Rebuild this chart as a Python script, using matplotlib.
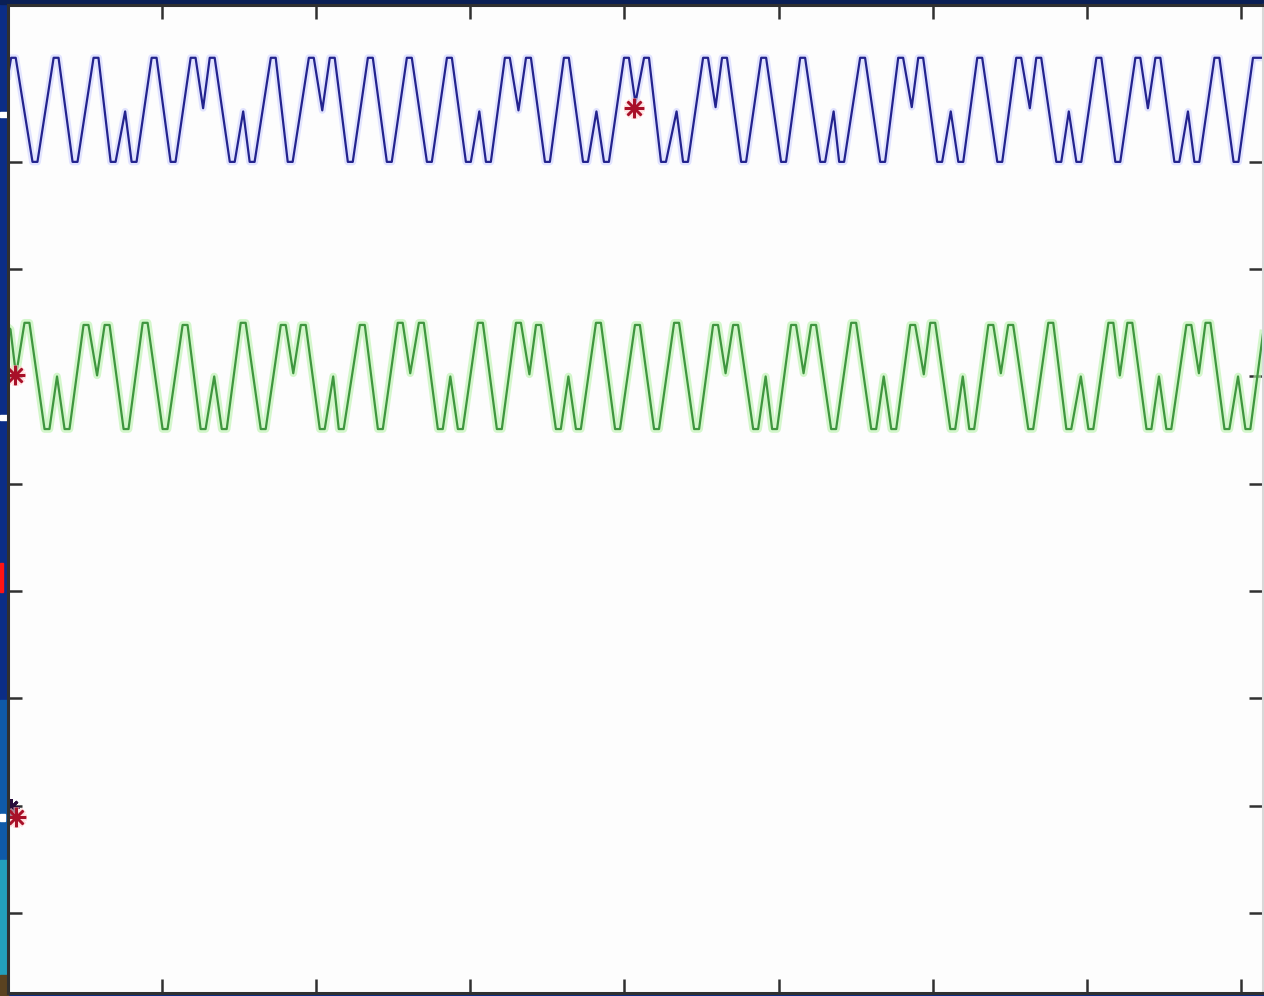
#!/usr/bin/env python3
"""Two beating test signals with marked samples, MATLAB-style boxed frame."""

from __future__ import annotations

import matplotlib

matplotlib.use("Agg")
import matplotlib.pyplot as plt
from matplotlib.patches import Rectangle

OUT_PATH = "out.png"
FIG_W_PX = 1264
FIG_H_PX = 996
DPI = 100

# upper trace (blue): vertices (flat tops kept as two points)
BLUE_T = [
    0.000, 0.020, 0.050, 0.159, 0.191, 0.296, 0.328, 0.419, 0.451, 0.555, 0.587, 0.666, 0.698, 0.760, 0.802, 0.834, 0.932, 0.964,
    1.055, 1.087, 1.185, 1.217, 1.266, 1.309, 1.341, 1.439, 1.471, 1.526, 1.568, 1.600, 1.705, 1.737, 1.815, 1.847, 1.952, 1.984,
    2.039, 2.088, 2.120, 2.205, 2.237, 2.335, 2.367, 2.458, 2.490, 2.588, 2.620, 2.718, 2.750, 2.848, 2.880, 2.971, 3.003, 3.058,
    3.101, 3.133, 3.224, 3.256, 3.312, 3.361, 3.393, 3.484, 3.516, 3.607, 3.639, 3.731, 3.763, 3.818, 3.867, 3.899, 3.997, 4.029,
    4.071, 4.127, 4.159, 4.237, 4.269, 4.338, 4.380, 4.412, 4.510, 4.542, 4.591, 4.633, 4.665, 4.757, 4.789, 4.887, 4.919,
    5.016, 5.048, 5.140, 5.172, 5.270, 5.302, 5.357, 5.393, 5.425, 5.529, 5.561, 5.659, 5.691, 5.776, 5.808, 5.864, 5.906, 5.938,
    6.029, 6.061, 6.117, 6.166, 6.198, 6.289, 6.321, 6.419, 6.451, 6.542, 6.574, 6.630, 6.672, 6.704, 6.802, 6.834, 6.883,
    6.932, 6.964, 7.062, 7.094, 7.185, 7.217, 7.315, 7.347, 7.396, 7.445, 7.477, 7.568, 7.600, 7.656, 7.698, 7.730, 7.828, 7.860,
    7.952, 7.984, 8.078, 8.143,
]
BLUE_V = [
    7.80, 7.97, 7.97, 7.00, 7.00, 7.97, 7.97, 7.00, 7.00, 7.97, 7.97, 7.00, 7.00, 7.47, 7.00, 7.00, 7.97, 7.97,
    7.00, 7.00, 7.97, 7.97, 7.50, 7.97, 7.97, 7.00, 7.00, 7.47, 7.00, 7.00, 7.97, 7.97, 7.00, 7.00, 7.97, 7.97,
    7.48, 7.97, 7.97, 7.00, 7.00, 7.97, 7.97, 7.00, 7.00, 7.97, 7.97, 7.00, 7.00, 7.97, 7.97, 7.00, 7.00, 7.47,
    7.00, 7.00, 7.97, 7.97, 7.48, 7.97, 7.97, 7.00, 7.00, 7.97, 7.97, 7.00, 7.00, 7.47, 7.00, 7.00, 7.97, 7.97,
    7.55, 7.97, 7.97, 7.00, 7.00, 7.47, 7.00, 7.00, 7.97, 7.97, 7.51, 7.97, 7.97, 7.00, 7.00, 7.97, 7.97,
    7.00, 7.00, 7.97, 7.97, 7.00, 7.00, 7.47, 7.00, 7.00, 7.97, 7.97, 7.00, 7.00, 7.97, 7.97, 7.51, 7.97, 7.97,
    7.00, 7.00, 7.47, 7.00, 7.00, 7.97, 7.97, 7.00, 7.00, 7.97, 7.97, 7.50, 7.97, 7.97, 7.00, 7.00, 7.47,
    7.00, 7.00, 7.97, 7.97, 7.00, 7.00, 7.97, 7.97, 7.50, 7.97, 7.97, 7.00, 7.00, 7.47, 7.00, 7.00, 7.97, 7.97,
    7.00, 7.00, 7.97, 7.97,
]

# middle trace (green)
GREEN_T = [
    0.000, 0.016, 0.052, 0.107, 0.139, 0.237, 0.269, 0.318, 0.367, 0.399, 0.490, 0.522, 0.578, 0.627, 0.659,
    0.750, 0.782, 0.874, 0.906, 1.003, 1.035, 1.133, 1.165, 1.250, 1.282, 1.338, 1.387, 1.419, 1.510, 1.542, 1.640, 1.672, 1.770, 1.802,
    1.851, 1.900, 1.932, 2.023, 2.055, 2.110, 2.146, 2.178, 2.283, 2.315, 2.400, 2.432, 2.529, 2.561, 2.610, 2.666, 2.698,
    2.789, 2.821, 2.870, 2.919, 2.951, 3.049, 3.081, 3.172, 3.204, 3.296, 3.328, 3.383, 3.426, 3.458, 3.555, 3.587, 3.636,
    3.685, 3.717, 3.815, 3.847, 3.939, 3.971, 4.068, 4.100, 4.192, 4.224, 4.322, 4.354, 4.452, 4.484, 4.575, 4.607, 4.656, 4.705, 4.737,
    4.835, 4.867, 4.916, 4.958, 4.990, 5.081, 5.113, 5.162, 5.211, 5.243, 5.341, 5.373, 5.471, 5.503, 5.601, 5.633, 5.682,
    5.731, 5.763, 5.854, 5.886, 5.942, 5.984, 6.016, 6.114, 6.146, 6.195, 6.237, 6.269, 6.361, 6.393, 6.442, 6.490, 6.522,
    6.620, 6.652, 6.750, 6.782, 6.867, 6.899, 6.961, 7.010, 7.042, 7.140, 7.172, 7.214, 7.263, 7.295, 7.387, 7.419, 7.468,
    7.516, 7.548, 7.646, 7.678, 7.727, 7.770, 7.802, 7.893, 7.925, 7.981, 8.029, 8.061, 8.143,
]
GREEN_V = [
    5.46, 5.44, 5.01, 5.50, 5.50, 4.51, 4.51, 5.00, 4.51, 4.51, 5.48, 5.48, 5.01, 5.48, 5.48,
    4.51, 4.51, 5.50, 5.50, 4.51, 4.51, 5.48, 5.48, 4.51, 4.51, 5.00, 4.51, 4.51, 5.50, 5.50, 4.51, 4.51, 5.48, 5.48,
    5.03, 5.48, 5.48, 4.51, 4.51, 5.00, 4.51, 4.51, 5.48, 5.48, 4.51, 4.51, 5.50, 5.50, 5.03, 5.50, 5.50,
    4.51, 4.51, 5.00, 4.51, 4.51, 5.50, 5.50, 4.51, 4.51, 5.50, 5.50, 5.02, 5.48, 5.48, 4.51, 4.51, 5.00,
    4.51, 4.51, 5.50, 5.50, 4.51, 4.51, 5.48, 5.48, 4.51, 4.51, 5.50, 5.50, 4.51, 4.51, 5.48, 5.48, 5.03, 5.48, 5.48,
    4.51, 4.51, 5.00, 4.51, 4.51, 5.48, 5.48, 5.03, 5.48, 5.48, 4.51, 4.51, 5.50, 5.50, 4.51, 4.51, 5.00,
    4.51, 4.51, 5.48, 5.48, 5.02, 5.50, 5.50, 4.51, 4.51, 5.00, 4.51, 4.51, 5.48, 5.48, 5.03, 5.48, 5.48,
    4.51, 4.51, 5.50, 5.50, 4.51, 4.51, 5.00, 4.51, 4.51, 5.50, 5.50, 5.01, 5.50, 5.50, 4.51, 4.51, 5.00,
    4.51, 4.51, 5.48, 5.48, 5.03, 5.50, 5.50, 4.51, 4.51, 5.00, 4.51, 4.51, 5.40,
]

# red asterisk markers
MARK_T = [4.065, 0.045, 0.055]
MARK_V = [7.50, 5.01, 0.89]
# dark marker half hidden behind the lower red one
SHADOW_T = [0.019]
SHADOW_V = [0.99]

X_TICKS = [1, 2, 3, 4, 5, 6, 7, 8]
Y_TICKS = [0, 1, 2, 3, 4, 5, 6, 7]
X_LIM = (0.0, 8.143)
Y_LIM = (-0.746, 8.462)

SLIDE_BLUE = "#0b2d86"
FRAME = "#303030"
ASTERISK = (8, 2, 0)


def fig_rect(fig, x0, y0, x1, y1, color):
    # pixel box (top-left origin) on the slide background
    fig.add_artist(
        Rectangle(
            (x0 / FIG_W_PX, 1 - y1 / FIG_H_PX),
            (x1 - x0) / FIG_W_PX,
            (y1 - y0) / FIG_H_PX,
            transform=fig.transFigure,
            color=color,
            zorder=0,
        )
    )


def draw_slide(fig):
    fig_rect(fig, 0, 0, FIG_W_PX, 4, "#0a1f55")
    fig_rect(fig, 0, 112, 8, 117, "white")
    fig_rect(fig, 0, 415, 8, 420, "white")
    fig_rect(fig, 0, 563, 3, 592, "#ff1414")
    fig_rect(fig, 0, 700, 8, 860, "#0f5aa8")
    fig_rect(fig, 0, 860, 8, 975, "#23a0bc")
    fig_rect(fig, 0, 814, 5, 821, "white")
    fig_rect(fig, 0, 975, 8, FIG_H_PX, "#5a4220")


def main() -> None:
    assert len(BLUE_T) == len(BLUE_V)
    assert len(GREEN_T) == len(GREEN_V)

    fig = plt.figure(figsize=(FIG_W_PX / DPI, FIG_H_PX / DPI), dpi=DPI)
    fig.patch.set_facecolor(SLIDE_BLUE)
    draw_slide(fig)

    ax = fig.add_axes([8 / FIG_W_PX, 3 / FIG_H_PX, 1255 / FIG_W_PX, 988 / FIG_H_PX])
    ax.set_facecolor("#fdfdfd")

    # soft halo under each trace, like the blurred capture
    ax.plot(BLUE_T, BLUE_V, color="#cfd2ff", lw=5.0, alpha=0.6, solid_joinstyle="round")
    ax.plot(BLUE_T, BLUE_V, color="#23238e", lw=1.6)
    ax.plot(GREEN_T, GREEN_V, color="#b8f2aa", lw=5.5, alpha=0.6, solid_joinstyle="round")
    ax.plot(GREEN_T, GREEN_V, color="#3f963f", lw=1.6)

    ax.plot(SHADOW_T, SHADOW_V, ls="none", marker=ASTERISK, ms=12, mew=2.0, color="#2a0c3c")
    ax.plot(MARK_T, MARK_V, ls="none", marker=ASTERISK, ms=15, mew=4.0, color="#ffc8c8", alpha=0.6)
    ax.plot(MARK_T, MARK_V, ls="none", marker=ASTERISK, ms=14, mew=1.8, color="#a81028")

    ax.set_xlim(*X_LIM)
    ax.set_ylim(*Y_LIM)
    ax.set_xticks(X_TICKS)
    ax.set_yticks(Y_TICKS)
    ax.tick_params(
        axis="both",
        direction="in",
        length=10,
        width=1.8,
        color=FRAME,
        top=True,
        right=True,
        labelbottom=False,
        labelleft=False,
    )
    for side in ("left", "top", "bottom"):
        ax.spines[side].set_color(FRAME)
        ax.spines[side].set_linewidth(2.2)
    ax.spines["right"].set_color("#d8d8d8")
    ax.spines["right"].set_linewidth(1.5)

    fig.savefig(OUT_PATH, dpi=DPI, facecolor=fig.get_facecolor())
    plt.close(fig)


if __name__ == "__main__":
    main()
